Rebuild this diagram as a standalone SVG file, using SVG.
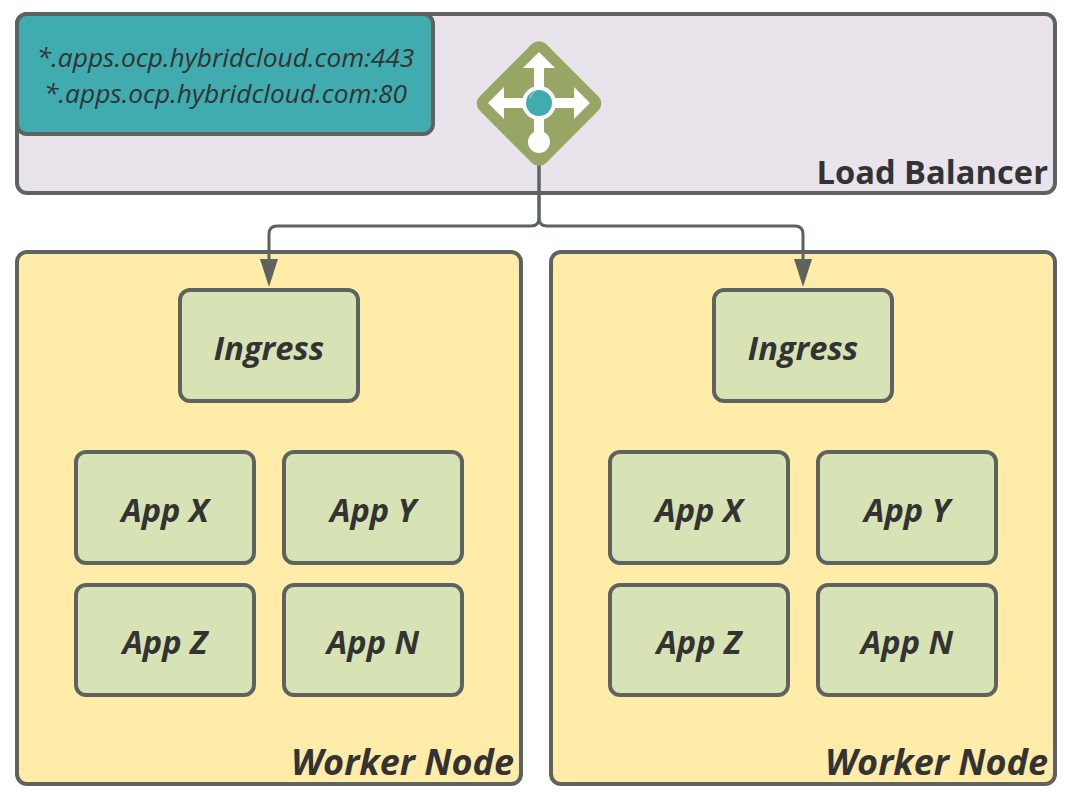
<svg xmlns="http://www.w3.org/2000/svg" width="1071" height="801" viewBox="0 0 1071 801">
<style>
.box{stroke:#5f6360;stroke-width:4}
.lb{fill:#e9e4ec}
.host{fill:#40acb0}
.worker{fill:#ffeca8}
.item{fill:#d7e3b5}
text{font-family:"Open Sans","Noto Sans",sans-serif;fill:#333;text-anchor:middle}
.t{font-size:32.6px;font-weight:700;font-style:italic}
.w{font-size:36px;font-weight:700;font-style:italic;text-anchor:end}
.u{font-size:26.3px;font-style:italic}
.title{font-size:32.7px;font-weight:700;text-anchor:end}
.conn{fill:none;stroke:#5f6360;stroke-width:3}
.head{fill:#5f6360}
</style>
<g id="load-balancer">
<rect class="box lb" x="17" y="14" width="1038" height="179" rx="10"/>
<text class="title" x="1048" y="184">Load Balancer</text>
</g>
<g id="hosts">
<rect class="box host" x="17" y="14" width="416" height="120" rx="10"/>
<text class="u" x="225.500" y="67">*.apps.ocp.hybridcloud.com:443</text>
<text class="u" x="225.500" y="103">*.apps.ocp.hybridcloud.com:80</text>
</g>
<g id="worker-1">
<rect class="box worker" x="17" y="252" width="504" height="532" rx="10"/>
<text class="w" x="514" y="775">Worker Node</text>
</g>
<g id="worker-2">
<rect class="box worker" x="551" y="252" width="504" height="532" rx="10"/>
<text class="w" x="1048" y="775">Worker Node</text>
</g>
<g id="ingress-1"><rect class="box item" x="180" y="290" width="178" height="111" rx="10"/><text class="t" x="269" y="359.500">Ingress</text></g>
<g id="app-x-1"><rect class="box item" x="76" y="452" width="178" height="111" rx="10"/><text class="t" x="165" y="522">App X</text></g>
<g id="app-y-1"><rect class="box item" x="284" y="452" width="178" height="111" rx="10"/><text class="t" x="373" y="522">App Y</text></g>
<g id="app-z-1"><rect class="box item" x="76" y="585" width="178" height="110" rx="10"/><text class="t" x="165" y="654">App Z</text></g>
<g id="app-n-1"><rect class="box item" x="284" y="585" width="178" height="110" rx="10"/><text class="t" x="373" y="654">App N</text></g>
<g id="ingress-2"><rect class="box item" x="714" y="290" width="178" height="111" rx="10"/><text class="t" x="803" y="359.500">Ingress</text></g>
<g id="app-x-2"><rect class="box item" x="610" y="452" width="178" height="111" rx="10"/><text class="t" x="699" y="522">App X</text></g>
<g id="app-y-2"><rect class="box item" x="818" y="452" width="178" height="111" rx="10"/><text class="t" x="907" y="522">App Y</text></g>
<g id="app-z-2"><rect class="box item" x="610" y="585" width="178" height="110" rx="10"/><text class="t" x="699" y="654">App Z</text></g>
<g id="app-n-2"><rect class="box item" x="818" y="585" width="178" height="110" rx="10"/><text class="t" x="907" y="654">App N</text></g>
<g id="connectors">
<path class="conn" d="M539 160V218Q539 226 531 226H277Q269 226 269 234V262"/>
<path class="conn" d="M539 160V218Q539 226 547 226H795Q803 226 803 234V262"/>
<path class="head" d="M260 259H278L269 287Z"/>
<path class="head" d="M794 259H812L803 287Z"/>
</g>
<g id="lb-icon">
<rect x="492" y="56.500" width="94" height="94" rx="10" transform="rotate(45 539 103.500)" fill="#97a565"/>
<path d="M539 52L555 68H544V90H534V68H523ZM488 103L504 87V98H525V108H504V119ZM590 103L574 87V98H553V108H574V119ZM534 115H544V133H534Z" fill="#fff"/>
<circle cx="539" cy="103" r="17" fill="#fff"/>
<circle cx="539" cy="142" r="11" fill="#fff"/>
<circle cx="539" cy="103" r="13" fill="#40acb0"/>
<path d="M530 96A13 13 0 0 1 539 90.500A12 12 0 0 0 530 104Z" fill="#fff" opacity=".45"/>
</g>
</svg>
